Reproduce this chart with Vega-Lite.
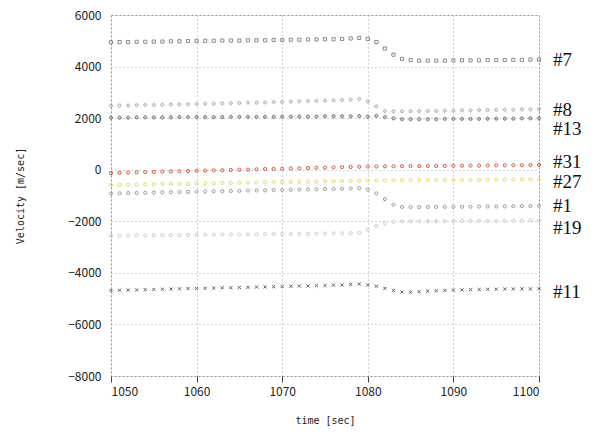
{
  "$schema": "https://vega.github.io/schema/vega-lite/v6.json",
  "width": 428,
  "height": 361,
  "autosize": {"type": "none"},
  "padding": {"left": 111, "top": 15, "right": 60, "bottom": 66},
  "background": "#ffffff",
  "config": {
    "view": {"stroke": "#888888", "strokeDash": [2, 2], "strokeWidth": 1},
    "axis": {
      "labelFont": "Noto Sans CJK JP",
      "labelFontSize": 12,
      "labelColor": "#222222",
      "titleFont": "DejaVu Sans Mono",
      "titleFontSize": 10,
      "titleFontWeight": "normal",
      "titleColor": "#222222",
      "gridColor": "#aaaaaa",
      "gridDash": [1, 3],
      "gridOpacity": 1,
      "domain": false,
      "tickColor": "#444444",
      "format": "d"
    }
  },
  "datasets": {
    "series": [
      {"t":1050,"s":"#7","v":4940},{"t":1051,"s":"#7","v":4950},{"t":1052,"s":"#7","v":4950},{"t":1053,"s":"#7","v":4960},{"t":1054,"s":"#7","v":4960},{"t":1055,"s":"#7","v":4970},{"t":1056,"s":"#7","v":4970},{"t":1057,"s":"#7","v":4980},{"t":1058,"s":"#7","v":4980},{"t":1059,"s":"#7","v":4990},{"t":1060,"s":"#7","v":5000},{"t":1061,"s":"#7","v":5000},{"t":1062,"s":"#7","v":5000},{"t":1063,"s":"#7","v":5010},{"t":1064,"s":"#7","v":5010},{"t":1065,"s":"#7","v":5010},{"t":1066,"s":"#7","v":5020},{"t":1067,"s":"#7","v":5020},{"t":1068,"s":"#7","v":5020},{"t":1069,"s":"#7","v":5030},{"t":1070,"s":"#7","v":5030},{"t":1071,"s":"#7","v":5040},{"t":1072,"s":"#7","v":5040},{"t":1073,"s":"#7","v":5050},{"t":1074,"s":"#7","v":5050},{"t":1075,"s":"#7","v":5060},{"t":1076,"s":"#7","v":5060},{"t":1077,"s":"#7","v":5070},{"t":1078,"s":"#7","v":5090},{"t":1079,"s":"#7","v":5110},{"t":1080,"s":"#7","v":5070},{"t":1081,"s":"#7","v":4950},{"t":1082,"s":"#7","v":4700},{"t":1083,"s":"#7","v":4460},{"t":1084,"s":"#7","v":4300},{"t":1085,"s":"#7","v":4250},{"t":1086,"s":"#7","v":4230},{"t":1087,"s":"#7","v":4230},{"t":1088,"s":"#7","v":4230},{"t":1089,"s":"#7","v":4230},{"t":1090,"s":"#7","v":4240},{"t":1091,"s":"#7","v":4240},{"t":1092,"s":"#7","v":4240},{"t":1093,"s":"#7","v":4240},{"t":1094,"s":"#7","v":4250},{"t":1095,"s":"#7","v":4250},{"t":1096,"s":"#7","v":4250},{"t":1097,"s":"#7","v":4260},{"t":1098,"s":"#7","v":4260},{"t":1099,"s":"#7","v":4270},{"t":1100,"s":"#7","v":4270},
      {"t":1050,"s":"#8","v":2480},{"t":1051,"s":"#8","v":2490},{"t":1052,"s":"#8","v":2490},{"t":1053,"s":"#8","v":2500},{"t":1054,"s":"#8","v":2510},{"t":1055,"s":"#8","v":2510},{"t":1056,"s":"#8","v":2520},{"t":1057,"s":"#8","v":2530},{"t":1058,"s":"#8","v":2530},{"t":1059,"s":"#8","v":2540},{"t":1060,"s":"#8","v":2550},{"t":1061,"s":"#8","v":2560},{"t":1062,"s":"#8","v":2560},{"t":1063,"s":"#8","v":2570},{"t":1064,"s":"#8","v":2580},{"t":1065,"s":"#8","v":2590},{"t":1066,"s":"#8","v":2600},{"t":1067,"s":"#8","v":2600},{"t":1068,"s":"#8","v":2610},{"t":1069,"s":"#8","v":2620},{"t":1070,"s":"#8","v":2630},{"t":1071,"s":"#8","v":2640},{"t":1072,"s":"#8","v":2650},{"t":1073,"s":"#8","v":2660},{"t":1074,"s":"#8","v":2670},{"t":1075,"s":"#8","v":2680},{"t":1076,"s":"#8","v":2690},{"t":1077,"s":"#8","v":2700},{"t":1078,"s":"#8","v":2720},{"t":1079,"s":"#8","v":2740},{"t":1080,"s":"#8","v":2650},{"t":1081,"s":"#8","v":2460},{"t":1082,"s":"#8","v":2280},{"t":1083,"s":"#8","v":2260},{"t":1084,"s":"#8","v":2260},{"t":1085,"s":"#8","v":2270},{"t":1086,"s":"#8","v":2270},{"t":1087,"s":"#8","v":2280},{"t":1088,"s":"#8","v":2280},{"t":1089,"s":"#8","v":2290},{"t":1090,"s":"#8","v":2290},{"t":1091,"s":"#8","v":2300},{"t":1092,"s":"#8","v":2300},{"t":1093,"s":"#8","v":2310},{"t":1094,"s":"#8","v":2310},{"t":1095,"s":"#8","v":2320},{"t":1096,"s":"#8","v":2330},{"t":1097,"s":"#8","v":2330},{"t":1098,"s":"#8","v":2340},{"t":1099,"s":"#8","v":2340},{"t":1100,"s":"#8","v":2350},
      {"t":1050,"s":"#13","v":2020},{"t":1051,"s":"#13","v":2020},{"t":1052,"s":"#13","v":2020},{"t":1053,"s":"#13","v":2030},{"t":1054,"s":"#13","v":2030},{"t":1055,"s":"#13","v":2030},{"t":1056,"s":"#13","v":2030},{"t":1057,"s":"#13","v":2030},{"t":1058,"s":"#13","v":2040},{"t":1059,"s":"#13","v":2040},{"t":1060,"s":"#13","v":2040},{"t":1061,"s":"#13","v":2040},{"t":1062,"s":"#13","v":2040},{"t":1063,"s":"#13","v":2040},{"t":1064,"s":"#13","v":2050},{"t":1065,"s":"#13","v":2050},{"t":1066,"s":"#13","v":2050},{"t":1067,"s":"#13","v":2050},{"t":1068,"s":"#13","v":2050},{"t":1069,"s":"#13","v":2050},{"t":1070,"s":"#13","v":2060},{"t":1071,"s":"#13","v":2060},{"t":1072,"s":"#13","v":2060},{"t":1073,"s":"#13","v":2060},{"t":1074,"s":"#13","v":2060},{"t":1075,"s":"#13","v":2070},{"t":1076,"s":"#13","v":2070},{"t":1077,"s":"#13","v":2070},{"t":1078,"s":"#13","v":2070},{"t":1079,"s":"#13","v":2080},{"t":1080,"s":"#13","v":2060},{"t":1081,"s":"#13","v":2090},{"t":1082,"s":"#13","v":2040},{"t":1083,"s":"#13","v":1990},{"t":1084,"s":"#13","v":1960},{"t":1085,"s":"#13","v":1960},{"t":1086,"s":"#13","v":1960},{"t":1087,"s":"#13","v":1960},{"t":1088,"s":"#13","v":1960},{"t":1089,"s":"#13","v":1970},{"t":1090,"s":"#13","v":1970},{"t":1091,"s":"#13","v":1970},{"t":1092,"s":"#13","v":1970},{"t":1093,"s":"#13","v":1970},{"t":1094,"s":"#13","v":1980},{"t":1095,"s":"#13","v":1980},{"t":1096,"s":"#13","v":1980},{"t":1097,"s":"#13","v":1980},{"t":1098,"s":"#13","v":1990},{"t":1099,"s":"#13","v":1990},{"t":1100,"s":"#13","v":1990},
      {"t":1050,"s":"#31","v":-130},{"t":1051,"s":"#31","v":-120},{"t":1052,"s":"#31","v":-110},{"t":1053,"s":"#31","v":-100},{"t":1054,"s":"#31","v":-95},{"t":1055,"s":"#31","v":-85},{"t":1056,"s":"#31","v":-75},{"t":1057,"s":"#31","v":-70},{"t":1058,"s":"#31","v":-60},{"t":1059,"s":"#31","v":-50},{"t":1060,"s":"#31","v":-45},{"t":1061,"s":"#31","v":-35},{"t":1062,"s":"#31","v":-25},{"t":1063,"s":"#31","v":-20},{"t":1064,"s":"#31","v":-10},{"t":1065,"s":"#31","v":0},{"t":1066,"s":"#31","v":5},{"t":1067,"s":"#31","v":15},{"t":1068,"s":"#31","v":25},{"t":1069,"s":"#31","v":30},{"t":1070,"s":"#31","v":40},{"t":1071,"s":"#31","v":50},{"t":1072,"s":"#31","v":55},{"t":1073,"s":"#31","v":65},{"t":1074,"s":"#31","v":75},{"t":1075,"s":"#31","v":80},{"t":1076,"s":"#31","v":90},{"t":1077,"s":"#31","v":100},{"t":1078,"s":"#31","v":105},{"t":1079,"s":"#31","v":115},{"t":1080,"s":"#31","v":125},{"t":1081,"s":"#31","v":125},{"t":1082,"s":"#31","v":130},{"t":1083,"s":"#31","v":130},{"t":1084,"s":"#31","v":135},{"t":1085,"s":"#31","v":140},{"t":1086,"s":"#31","v":140},{"t":1087,"s":"#31","v":145},{"t":1088,"s":"#31","v":145},{"t":1089,"s":"#31","v":150},{"t":1090,"s":"#31","v":155},{"t":1091,"s":"#31","v":155},{"t":1092,"s":"#31","v":160},{"t":1093,"s":"#31","v":160},{"t":1094,"s":"#31","v":165},{"t":1095,"s":"#31","v":170},{"t":1096,"s":"#31","v":170},{"t":1097,"s":"#31","v":175},{"t":1098,"s":"#31","v":175},{"t":1099,"s":"#31","v":180},{"t":1100,"s":"#31","v":185},
      {"t":1050,"s":"#27","v":-590},{"t":1051,"s":"#27","v":-585},{"t":1052,"s":"#27","v":-580},{"t":1053,"s":"#27","v":-575},{"t":1054,"s":"#27","v":-570},{"t":1055,"s":"#27","v":-565},{"t":1056,"s":"#27","v":-555},{"t":1057,"s":"#27","v":-550},{"t":1058,"s":"#27","v":-545},{"t":1059,"s":"#27","v":-540},{"t":1060,"s":"#27","v":-535},{"t":1061,"s":"#27","v":-530},{"t":1062,"s":"#27","v":-525},{"t":1063,"s":"#27","v":-515},{"t":1064,"s":"#27","v":-510},{"t":1065,"s":"#27","v":-505},{"t":1066,"s":"#27","v":-500},{"t":1067,"s":"#27","v":-495},{"t":1068,"s":"#27","v":-490},{"t":1069,"s":"#27","v":-485},{"t":1070,"s":"#27","v":-480},{"t":1071,"s":"#27","v":-470},{"t":1072,"s":"#27","v":-465},{"t":1073,"s":"#27","v":-460},{"t":1074,"s":"#27","v":-455},{"t":1075,"s":"#27","v":-450},{"t":1076,"s":"#27","v":-445},{"t":1077,"s":"#27","v":-440},{"t":1078,"s":"#27","v":-435},{"t":1079,"s":"#27","v":-425},{"t":1080,"s":"#27","v":-420},{"t":1081,"s":"#27","v":-418},{"t":1082,"s":"#27","v":-415},{"t":1083,"s":"#27","v":-413},{"t":1084,"s":"#27","v":-410},{"t":1085,"s":"#27","v":-408},{"t":1086,"s":"#27","v":-405},{"t":1087,"s":"#27","v":-403},{"t":1088,"s":"#27","v":-400},{"t":1089,"s":"#27","v":-398},{"t":1090,"s":"#27","v":-395},{"t":1091,"s":"#27","v":-393},{"t":1092,"s":"#27","v":-390},{"t":1093,"s":"#27","v":-388},{"t":1094,"s":"#27","v":-385},{"t":1095,"s":"#27","v":-383},{"t":1096,"s":"#27","v":-380},{"t":1097,"s":"#27","v":-378},{"t":1098,"s":"#27","v":-375},{"t":1099,"s":"#27","v":-373},{"t":1100,"s":"#27","v":-370},
      {"t":1050,"s":"#1","v":-920},{"t":1051,"s":"#1","v":-915},{"t":1052,"s":"#1","v":-905},{"t":1053,"s":"#1","v":-900},{"t":1054,"s":"#1","v":-895},{"t":1055,"s":"#1","v":-885},{"t":1056,"s":"#1","v":-880},{"t":1057,"s":"#1","v":-870},{"t":1058,"s":"#1","v":-865},{"t":1059,"s":"#1","v":-860},{"t":1060,"s":"#1","v":-850},{"t":1061,"s":"#1","v":-845},{"t":1062,"s":"#1","v":-840},{"t":1063,"s":"#1","v":-830},{"t":1064,"s":"#1","v":-825},{"t":1065,"s":"#1","v":-820},{"t":1066,"s":"#1","v":-810},{"t":1067,"s":"#1","v":-805},{"t":1068,"s":"#1","v":-800},{"t":1069,"s":"#1","v":-790},{"t":1070,"s":"#1","v":-785},{"t":1071,"s":"#1","v":-780},{"t":1072,"s":"#1","v":-770},{"t":1073,"s":"#1","v":-765},{"t":1074,"s":"#1","v":-760},{"t":1075,"s":"#1","v":-750},{"t":1076,"s":"#1","v":-745},{"t":1077,"s":"#1","v":-740},{"t":1078,"s":"#1","v":-730},{"t":1079,"s":"#1","v":-720},{"t":1080,"s":"#1","v":-770},{"t":1081,"s":"#1","v":-920},{"t":1082,"s":"#1","v":-1140},{"t":1083,"s":"#1","v":-1360},{"t":1084,"s":"#1","v":-1440},{"t":1085,"s":"#1","v":-1450},{"t":1086,"s":"#1","v":-1450},{"t":1087,"s":"#1","v":-1445},{"t":1088,"s":"#1","v":-1445},{"t":1089,"s":"#1","v":-1440},{"t":1090,"s":"#1","v":-1440},{"t":1091,"s":"#1","v":-1435},{"t":1092,"s":"#1","v":-1435},{"t":1093,"s":"#1","v":-1430},{"t":1094,"s":"#1","v":-1425},{"t":1095,"s":"#1","v":-1425},{"t":1096,"s":"#1","v":-1420},{"t":1097,"s":"#1","v":-1415},{"t":1098,"s":"#1","v":-1410},{"t":1099,"s":"#1","v":-1405},{"t":1100,"s":"#1","v":-1400},
      {"t":1050,"s":"#19","v":-2560},{"t":1051,"s":"#19","v":-2555},{"t":1052,"s":"#19","v":-2555},{"t":1053,"s":"#19","v":-2550},{"t":1054,"s":"#19","v":-2545},{"t":1055,"s":"#19","v":-2545},{"t":1056,"s":"#19","v":-2540},{"t":1057,"s":"#19","v":-2535},{"t":1058,"s":"#19","v":-2535},{"t":1059,"s":"#19","v":-2530},{"t":1060,"s":"#19","v":-2525},{"t":1061,"s":"#19","v":-2525},{"t":1062,"s":"#19","v":-2520},{"t":1063,"s":"#19","v":-2515},{"t":1064,"s":"#19","v":-2515},{"t":1065,"s":"#19","v":-2510},{"t":1066,"s":"#19","v":-2505},{"t":1067,"s":"#19","v":-2505},{"t":1068,"s":"#19","v":-2500},{"t":1069,"s":"#19","v":-2495},{"t":1070,"s":"#19","v":-2495},{"t":1071,"s":"#19","v":-2490},{"t":1072,"s":"#19","v":-2485},{"t":1073,"s":"#19","v":-2485},{"t":1074,"s":"#19","v":-2480},{"t":1075,"s":"#19","v":-2475},{"t":1076,"s":"#19","v":-2470},{"t":1077,"s":"#19","v":-2465},{"t":1078,"s":"#19","v":-2460},{"t":1079,"s":"#19","v":-2450},{"t":1080,"s":"#19","v":-2330},{"t":1081,"s":"#19","v":-2180},{"t":1082,"s":"#19","v":-2080},{"t":1083,"s":"#19","v":-2020},{"t":1084,"s":"#19","v":-2000},{"t":1085,"s":"#19","v":-1995},{"t":1086,"s":"#19","v":-1995},{"t":1087,"s":"#19","v":-1990},{"t":1088,"s":"#19","v":-1990},{"t":1089,"s":"#19","v":-1990},{"t":1090,"s":"#19","v":-1985},{"t":1091,"s":"#19","v":-1985},{"t":1092,"s":"#19","v":-1985},{"t":1093,"s":"#19","v":-1980},{"t":1094,"s":"#19","v":-1980},{"t":1095,"s":"#19","v":-1980},{"t":1096,"s":"#19","v":-1975},{"t":1097,"s":"#19","v":-1975},{"t":1098,"s":"#19","v":-1975},{"t":1099,"s":"#19","v":-1970},{"t":1100,"s":"#19","v":-1970},
      {"t":1050,"s":"#11","v":-4680},{"t":1051,"s":"#11","v":-4675},{"t":1052,"s":"#11","v":-4665},{"t":1053,"s":"#11","v":-4660},{"t":1054,"s":"#11","v":-4650},{"t":1055,"s":"#11","v":-4645},{"t":1056,"s":"#11","v":-4635},{"t":1057,"s":"#11","v":-4630},{"t":1058,"s":"#11","v":-4620},{"t":1059,"s":"#11","v":-4610},{"t":1060,"s":"#11","v":-4605},{"t":1061,"s":"#11","v":-4600},{"t":1062,"s":"#11","v":-4590},{"t":1063,"s":"#11","v":-4580},{"t":1064,"s":"#11","v":-4575},{"t":1065,"s":"#11","v":-4565},{"t":1066,"s":"#11","v":-4560},{"t":1067,"s":"#11","v":-4550},{"t":1068,"s":"#11","v":-4545},{"t":1069,"s":"#11","v":-4535},{"t":1070,"s":"#11","v":-4530},{"t":1071,"s":"#11","v":-4520},{"t":1072,"s":"#11","v":-4510},{"t":1073,"s":"#11","v":-4505},{"t":1074,"s":"#11","v":-4495},{"t":1075,"s":"#11","v":-4490},{"t":1076,"s":"#11","v":-4480},{"t":1077,"s":"#11","v":-4470},{"t":1078,"s":"#11","v":-4450},{"t":1079,"s":"#11","v":-4430},{"t":1080,"s":"#11","v":-4470},{"t":1081,"s":"#11","v":-4520},{"t":1082,"s":"#11","v":-4600},{"t":1083,"s":"#11","v":-4680},{"t":1084,"s":"#11","v":-4740},{"t":1085,"s":"#11","v":-4750},{"t":1086,"s":"#11","v":-4730},{"t":1087,"s":"#11","v":-4710},{"t":1088,"s":"#11","v":-4690},{"t":1089,"s":"#11","v":-4680},{"t":1090,"s":"#11","v":-4670},{"t":1091,"s":"#11","v":-4660},{"t":1092,"s":"#11","v":-4650},{"t":1093,"s":"#11","v":-4645},{"t":1094,"s":"#11","v":-4640},{"t":1095,"s":"#11","v":-4635},{"t":1096,"s":"#11","v":-4630},{"t":1097,"s":"#11","v":-4625},{"t":1098,"s":"#11","v":-4620},{"t":1099,"s":"#11","v":-4620},{"t":1100,"s":"#11","v":-4615}
    ],
    "labels": [
      {"s":"#7","t":1100,"v":4270},
      {"s":"#8","t":1100,"v":2330},
      {"s":"#13","t":1100,"v":1590},
      {"s":"#31","t":1100,"v":310},
      {"s":"#27","t":1100,"v":-470},
      {"s":"#1","t":1100,"v":-1400},
      {"s":"#19","t":1100,"v":-2250},
      {"s":"#11","t":1100,"v":-4730}
    ]
  },
  "layer": [
    {
      "data": {"name": "series"},
      "mark": {"type": "point", "filled": false, "strokeWidth": 1, "size": 10, "opacity": 0.85},
      "encoding": {
        "x": {
          "field": "t", "type": "quantitative",
          "scale": {"domain": [1050, 1100], "nice": false, "zero": false},
          "axis": {"values": [1050, 1060, 1070, 1080, 1090, 1100], "title": "time [sec]", "tickSize": 6, "labelPadding": 4, "titlePadding": 18, "grid": true}
        },
        "y": {
          "field": "v", "type": "quantitative",
          "scale": {"domain": [-8000, 6000], "nice": false, "zero": false},
          "axis": {"values": [-8000, -6000, -4000, -2000, 0, 2000, 4000, 6000], "title": "Velocity [m/sec]", "tickSize": 0, "labelPadding": 10, "titlePadding": 42, "grid": true}
        },
        "color": {
          "field": "s", "type": "nominal", "legend": null,
          "scale": {
            "domain": ["#7", "#8", "#13", "#31", "#27", "#1", "#19", "#11"],
            "range": ["#777777", "#aaaaaa", "#666666", "#c0402a", "#d8d850", "#8a8a8a", "#c4c4c4", "#444444"]
          }
        },
        "shape": {
          "field": "s", "type": "nominal", "legend": null,
          "scale": {
            "domain": ["#7", "#8", "#13", "#31", "#27", "#1", "#19", "#11"],
            "range": ["square", "cross", "cross", "circle", "circle", "circle", "circle", "M-1,-1L1,1M-1,1L1,-1"]
          }
        }
      }
    },
    {
      "data": {"name": "labels"},
      "mark": {"type": "text", "align": "left", "baseline": "middle", "dx": 14, "font": "Liberation Serif", "fontSize": 19, "color": "#111111"},
      "encoding": {
        "x": {"field": "t", "type": "quantitative"},
        "y": {"field": "v", "type": "quantitative"},
        "text": {"field": "s", "type": "nominal"}
      }
    }
  ]
}
